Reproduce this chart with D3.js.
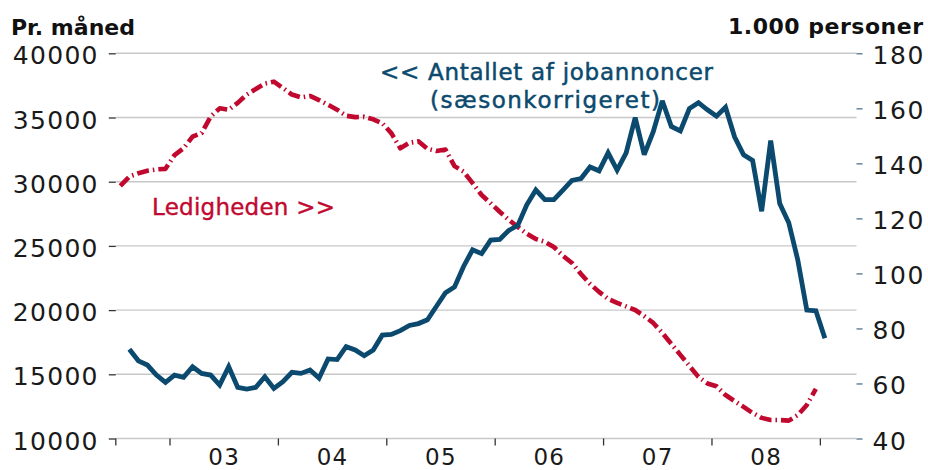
<!DOCTYPE html>
<html><head><meta charset="utf-8">
<script src="https://cdn.jsdelivr.net/npm/d3@7"></script>
<style>
html,body{margin:0;padding:0;background:#fff;}
svg{display:block;}
text{font-family:"DejaVu Sans",sans-serif;}
</style></head>
<body>
<svg id="chart" width="928" height="470"></svg>
<script>
// ---- data ----
const firstMonth = new Date(2002, 6, 1);   // Jul 2002 (axis start)
const lastMonth  = new Date(2009, 3, 1);   // Apr 2009 (axis end)
const jobAdsStart = new Date(2002, 7, 1);  // Aug 2002
const unempStart  = new Date(2002, 6, 1);  // Jul 2002

// Antallet af jobannoncer (sæsonkorrigeret), pr. måned — left axis
const jobAds = [
  16950, 16050, 15720, 14940, 14370,
  14940, 14760, 15590, 15070, 14940, 14160, 15590, 13980, 13850, 13980, 14810, 13900,
  14420, 15150, 15070, 15330, 14700, 16200, 16150, 17150, 16900, 16450, 16900, 18050,
  18100, 18400, 18800, 18950, 19250, 20300, 21350, 21800, 23400, 24700, 24400, 25450,
  25500, 26200, 26600, 28200, 29350, 28600, 28600, 29350, 30100, 30250, 31150, 30850,
  32250, 30900, 32250, 35000, 32100, 33900, 36300, 34300, 33950, 35700, 36150, 35600,
  35100, 35800, 33500, 32100, 31650, 27700, 33200, 28300, 26800, 23900, 20000, 19950,
  17800
];
// Ledigheden, 1.000 personer — right axis
const unemployment = [
  131.8, 135.2, 136.4, 137.3, 137.8, 138.0,
  143.0, 145.5, 149.7, 151.0, 157.0, 160.0, 159.5, 162.0, 165.0, 167.0, 169.0, 169.7,
  167.4, 165.0, 164.0, 164.5, 163.0, 161.3, 159.5, 157.3, 156.8, 156.9, 156.0, 154.6,
  151.0, 145.5, 147.5, 148.0, 145.3, 144.5, 145.0, 139.0, 137.0, 132.8, 128.5, 125.5,
  122.4, 119.5, 116.9, 114.4, 112.5, 111.5, 109.6, 106.4, 103.8, 99.8, 96.2, 93.3,
  90.7, 89.3, 88.0, 86.7, 84.5, 82.0, 78.4, 74.4, 70.4, 66.4, 62.4, 60.0,
  59.0, 55.8, 53.6, 51.5, 49.3, 47.5, 46.7, 46.7, 46.5, 48.5, 52.2, 58.0
];
const leftTicks  = [10000, 15000, 20000, 25000, 30000, 35000, 40000];
const rightTicks = [40, 60, 80, 100, 120, 140, 160, 180];
const yearLabels = ["03", "04", "05", "06", "07", "08"];
const yearTickYears = [2003, 2004, 2005, 2006, 2007, 2008, 2009];

const leftTitle = "Pr. måned";
const rightTitle = "1.000 personer";
const jobLabel = ["<< Antallet af jobannoncer", "(sæsonkorrigeret)"];
const unempLabel = "Ledigheden >>";

// ---- styles ----
const BLUE = "#0b4a6e", RED = "#c1092f";
const L = 115.8, R = 856.5, T = 53.3, B = 438.5;

const svg = d3.select("#chart");
const months = d3.timeMonth.range(firstMonth, d3.timeMonth.offset(lastMonth, 1));
const key = d => d3.timeFormat("%Y-%m")(d);
const x = d3.scaleBand().domain(months.map(key)).range([L, R]).padding(0);
const xc = d => x(key(d)) + x.bandwidth() / 2;
const yL = d3.scaleLinear().domain([10000, 40000]).range([B, T]);
const yR = d3.scaleLinear().domain([40, 180]).range([B, T]);

// gridlines
svg.append("g").selectAll("line").data(leftTicks).join("line")
  .attr("x1", L).attr("x2", R)
  .attr("y1", d => yL(d)).attr("y2", d => yL(d))
  .attr("stroke", "#c8c8c8").attr("stroke-width", 1.4);

// left axis
const gl = svg.append("g").attr("transform", `translate(${L},0)`)
  .call(d3.axisLeft(yL).tickValues(leftTicks).tickSize(7).tickPadding(10).tickFormat(d3.format("d")));
gl.select(".domain").remove();
gl.selectAll(".tick line").attr("stroke", "#333").attr("stroke-width", 1.3);
gl.selectAll(".tick text").attr("font-size", 25).attr("fill", "#1a1a1a")
  .attr("letter-spacing", 1.3).attr("dy", "0.42em").style("font-family", "DejaVu Sans");

// right axis
const gr = svg.append("g").attr("transform", `translate(${R},0)`)
  .call(d3.axisRight(yR).tickValues(rightTicks).tickSize(0).tickPadding(16).tickFormat(d3.format("d")));
gr.select(".domain").remove();
gr.selectAll(".tick").append("line").attr("x1", 0).attr("x2", 6)
  .attr("stroke", "#4e7290").attr("stroke-width", 1.3);
gr.selectAll(".tick text").attr("font-size", 25).attr("fill", "#1a1a1a")
  .attr("letter-spacing", 1.6).attr("dy", "0.42em").style("font-family", "DejaVu Sans");

// x axis ticks at year boundaries
const yearTickX = yearTickYears.map(yy => x(key(new Date(yy, 0, 1))));
svg.append("g").selectAll("line").data([L, ...yearTickX]).join("line")
  .attr("x1", d => d).attr("x2", d => d).attr("y1", B).attr("y2", B + 7)
  .attr("stroke", "#333").attr("stroke-width", 1.3);
svg.append("g").selectAll("text").data(yearLabels).join("text")
  .attr("x", (d, i) => x(key(new Date(2003 + i, 6, 1))))
  .attr("y", 465).attr("text-anchor", "middle")
  .attr("font-size", 23).attr("letter-spacing", 1.3).attr("fill", "#1a1a1a")
  .text(d => d);

// lines
const jobData = jobAds.map((v, i) => ({d: d3.timeMonth.offset(jobAdsStart, i), v}));
const unData = unemployment.map((v, i) => ({d: d3.timeMonth.offset(unempStart, i), v}));

svg.append("path").datum(unData)
  .attr("fill", "none").attr("stroke", RED).attr("stroke-width", 4.6)
  .attr("stroke-dasharray", "12 4 1.5 4").attr("stroke-linejoin", "round")
  .attr("d", d3.line().x(p => xc(p.d)).y(p => yR(p.v)));

svg.append("path").datum(jobData)
  .attr("fill", "none").attr("stroke", BLUE).attr("stroke-width", 4.8)
  .attr("stroke-linejoin", "miter").attr("stroke-miterlimit", 3)
  .attr("d", d3.line().x(p => xc(p.d)).y(p => yL(p.v)));

// titles
svg.append("text").attr("x", 11).attr("y", 35).attr("font-size", 22).attr("font-weight", "bold")
  .attr("fill", "#111").attr("textLength", 124).text(leftTitle);
svg.append("text").attr("x", 923).attr("y", 34).attr("font-size", 22).attr("font-weight", "bold")
  .attr("fill", "#111").attr("text-anchor", "end").attr("textLength", 195).text(rightTitle);

// annotations
svg.append("text").attr("x", 380).attr("y", 80)
  .attr("font-size", 23).attr("fill", BLUE).attr("stroke", BLUE).attr("stroke-width", 0.5)
  .attr("textLength", 333).text(jobLabel[0]);
svg.append("text").attr("x", 430).attr("y", 108)
  .attr("font-size", 23).attr("fill", BLUE).attr("stroke", BLUE).attr("stroke-width", 0.5)
  .attr("textLength", 230).text(jobLabel[1]);
svg.append("text").attr("x", 152).attr("y", 215)
  .attr("font-size", 23).attr("fill", RED).attr("stroke", RED).attr("stroke-width", 0.4)
  .attr("textLength", 183).text(unempLabel);
</script>
</body></html>
